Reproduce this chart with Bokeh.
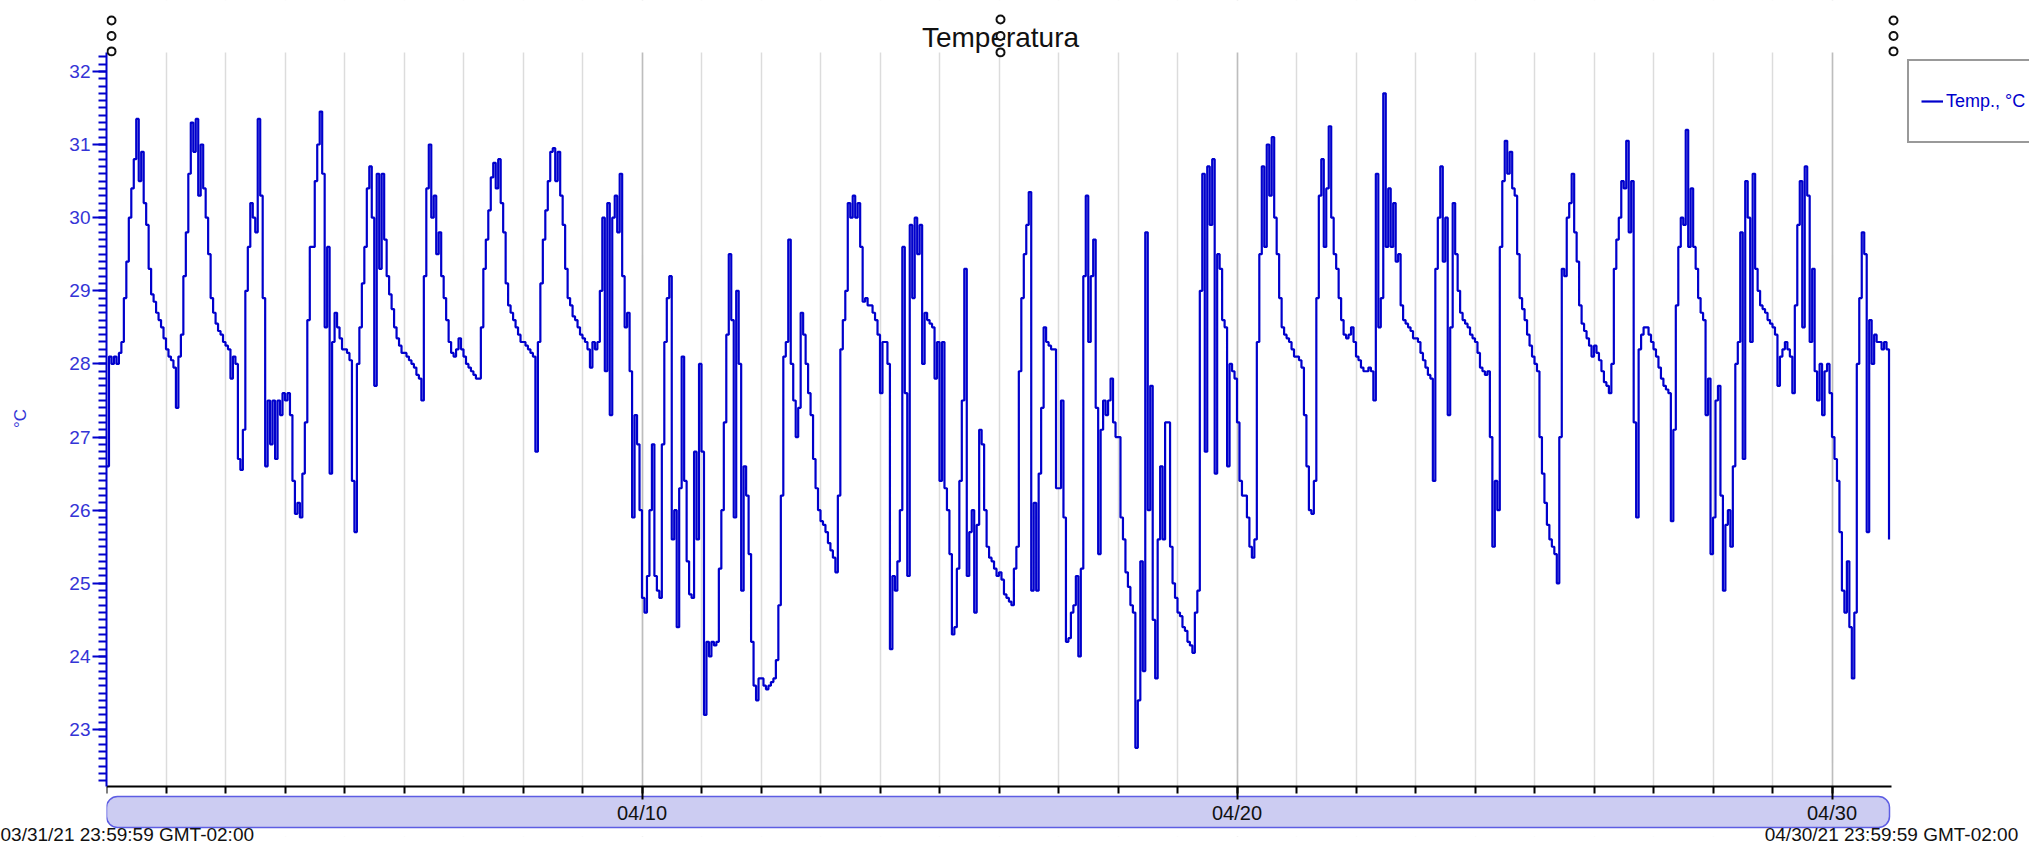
import pandas as pd
from bokeh.plotting import figure
from bokeh.core.properties import value
from bokeh.models import (Range1d, FixedTicker, SingleIntervalTicker, LinearAxis,
                          BoxAnnotation, Label, Legend, LegendItem, ColumnDataSource)
from bokeh.embed import file_html
from bokeh.resources import INLINE

# ---------------- data (hourly readings, °C) ----------------
start_time = "2021-04-01 00:00"
apr01 = [26.6, 28.1, 28.0, 28.1, 28.0, 28.15, 28.3, 28.9, 29.4, 30.0, 30.4, 30.8, 31.35, 30.5, 30.9, 30.2, 29.9, 29.3, 28.95, 28.85, 28.7, 28.6, 28.5, 28.35]
apr02 = [28.2, 28.1, 28.05, 27.95, 27.4, 28.1, 28.4, 29.2, 29.8, 30.6, 31.3, 30.9, 31.35, 30.3, 31.0, 30.4, 30.0, 29.5, 28.9, 28.7, 28.55, 28.45, 28.4, 28.3]
apr03 = [28.25, 28.2, 27.8, 28.1, 28.0, 26.7, 26.55, 27.1, 29.0, 29.6, 30.2, 30.0, 29.8, 31.35, 30.3, 28.9, 26.6, 27.5, 26.9, 27.5, 26.7, 27.5, 27.3, 27.6]
apr04 = [27.5, 27.6, 27.3, 26.4, 25.95, 26.1, 25.9, 26.5, 27.2, 28.6, 29.6, 29.6, 30.5, 31.0, 31.45, 30.6, 28.5, 29.6, 26.5, 28.3, 28.7, 28.5, 28.35, 28.2]
apr05 = [28.2, 28.15, 28.05, 26.4, 25.7, 28.0, 28.5, 29.1, 29.6, 30.4, 30.7, 30.0, 27.7, 30.6, 29.3, 30.6, 29.7, 29.2, 28.95, 28.75, 28.5, 28.35, 28.25, 28.15]
apr06 = [28.15, 28.1, 28.05, 28.0, 27.95, 27.85, 27.8, 27.5, 29.2, 30.4, 31.0, 30.0, 30.3, 29.5, 29.8, 29.2, 28.9, 28.6, 28.3, 28.15, 28.1, 28.2, 28.35, 28.2]
apr07 = [28.1, 28.0, 27.95, 27.9, 27.85, 27.8, 27.8, 28.5, 29.3, 29.7, 30.1, 30.55, 30.75, 30.4, 30.8, 30.2, 29.8, 29.1, 28.8, 28.7, 28.6, 28.5, 28.4, 28.3]
apr08 = [28.3, 28.25, 28.2, 28.15, 28.1, 26.8, 28.3, 29.1, 29.7, 30.1, 30.5, 30.9, 30.95, 30.5, 30.9, 30.3, 29.9, 29.3, 28.9, 28.8, 28.65, 28.6, 28.5, 28.4]
apr09 = [28.35, 28.3, 28.2, 27.95, 28.3, 28.2, 28.3, 29.0, 30.0, 27.9, 30.2, 27.3, 30.0, 30.3, 29.8, 30.6, 29.2, 28.5, 28.7, 27.9, 25.9, 27.3, 26.9, 26.0]
apr10 = [24.8, 24.6, 25.1, 26.0, 26.9, 25.1, 24.9, 24.8, 26.9, 28.3, 28.9, 29.2, 25.6, 26.0, 24.4, 26.3, 28.1, 26.4, 25.3, 24.85, 24.8, 26.8, 25.6, 28.0]
apr11 = [26.8, 23.2, 24.2, 24.0, 24.2, 24.15, 24.2, 25.2, 26.0, 27.2, 28.4, 29.5, 28.6, 25.9, 29.0, 28.0, 24.9, 26.6, 26.2, 25.4, 24.2, 23.6, 23.4, 23.7]
apr12 = [23.7, 23.6, 23.55, 23.6, 23.65, 23.7, 23.95, 24.7, 26.2, 28.1, 28.3, 29.7, 28.0, 27.5, 27.0, 27.4, 28.7, 28.4, 28.0, 27.6, 27.3, 26.7, 26.3, 26.0]
apr13 = [25.85, 25.8, 25.7, 25.55, 25.45, 25.35, 25.15, 26.2, 28.2, 28.6, 29.0, 30.2, 30.0, 30.3, 30.0, 30.2, 29.6, 28.85, 28.9, 28.8, 28.8, 28.7, 28.6, 28.4]
apr14 = [27.6, 28.3, 28.3, 28.0, 24.1, 25.1, 24.9, 25.3, 26.0, 29.6, 27.6, 25.1, 29.9, 28.9, 30.0, 29.5, 29.9, 28.0, 28.7, 28.6, 28.55, 28.5, 27.8, 28.3]
apr15 = [26.4, 28.3, 26.3, 26.0, 25.4, 24.3, 24.4, 25.2, 26.4, 27.5, 29.3, 25.1, 25.7, 26.0, 24.6, 25.8, 27.1, 26.9, 26.0, 25.5, 25.35, 25.3, 25.2, 25.1]
apr16 = [25.15, 25.05, 24.85, 24.8, 24.75, 24.7, 25.2, 25.5, 27.9, 28.9, 29.5, 29.9, 30.35, 24.9, 26.1, 24.9, 26.5, 27.4, 28.5, 28.3, 28.25, 28.2, 28.2, 26.3]
apr17 = [26.3, 27.5, 25.9, 24.2, 24.25, 24.6, 24.7, 25.1, 24.0, 25.2, 29.2, 30.3, 28.3, 29.2, 29.7, 27.4, 25.4, 27.1, 27.5, 27.3, 27.5, 27.8, 27.2, 27.0]
apr18 = [27.0, 25.9, 25.6, 25.15, 24.95, 24.7, 24.6, 22.75, 23.4, 25.3, 23.8, 29.8, 26.0, 27.7, 24.5, 23.7, 25.6, 26.6, 25.6, 27.2, 27.2, 25.5, 25.0, 24.8]
apr19 = [24.6, 24.55, 24.4, 24.35, 24.2, 24.15, 24.05, 24.6, 24.9, 29.0, 30.6, 26.8, 30.7, 29.9, 30.8, 26.5, 29.5, 29.3, 28.6, 28.5, 26.6, 28.0, 27.9, 27.8]
apr20 = [27.2, 26.4, 26.2, 26.2, 25.9, 25.5, 25.35, 25.6, 28.3, 29.5, 30.7, 29.6, 31.0, 30.3, 31.1, 30.0, 29.5, 28.9, 28.5, 28.4, 28.35, 28.3, 28.2, 28.1]
apr21 = [28.1, 28.05, 27.95, 27.3, 26.6, 26.0, 25.95, 26.4, 28.9, 30.3, 30.8, 29.6, 30.4, 31.25, 30.0, 29.5, 29.3, 28.9, 28.6, 28.4, 28.35, 28.4, 28.5, 28.3]
apr22 = [28.1, 28.05, 27.95, 27.9, 27.9, 27.95, 27.9, 27.5, 30.6, 28.5, 28.9, 31.7, 29.6, 30.4, 29.6, 30.2, 29.4, 29.5, 28.8, 28.6, 28.55, 28.5, 28.45, 28.35]
apr23 = [28.35, 28.3, 28.15, 28.05, 27.95, 27.85, 27.8, 26.4, 29.3, 30.0, 30.7, 29.4, 30.0, 27.3, 28.5, 30.2, 29.5, 29.0, 28.7, 28.6, 28.55, 28.5, 28.4, 28.35]
apr24 = [28.3, 28.15, 27.95, 27.9, 27.85, 27.9, 27.0, 25.5, 26.4, 26.0, 29.6, 30.5, 31.05, 30.6, 30.9, 30.4, 30.3, 29.5, 28.9, 28.75, 28.6, 28.4, 28.25, 28.1]
apr25 = [28.0, 27.9, 27.0, 26.5, 26.1, 25.8, 25.6, 25.5, 25.4, 25.0, 27.0, 29.3, 29.2, 30.0, 30.2, 30.6, 29.8, 29.4, 28.8, 28.55, 28.45, 28.35, 28.25, 28.1]
apr26 = [28.25, 28.15, 28.05, 27.9, 27.75, 27.7, 27.6, 28.0, 29.3, 29.7, 30.0, 30.5, 30.4, 31.05, 29.8, 30.5, 27.2, 25.9, 28.2, 28.4, 28.5, 28.5, 28.4, 28.3]
apr27 = [28.2, 28.1, 27.95, 27.8, 27.7, 27.65, 27.6, 25.85, 27.1, 28.8, 29.6, 30.0, 29.9, 31.2, 29.6, 30.4, 29.6, 29.3, 28.9, 28.7, 28.6, 27.3, 27.8, 25.4]
apr28 = [25.9, 27.5, 27.7, 26.2, 24.9, 25.8, 26.0, 25.5, 26.6, 28.0, 28.3, 29.8, 26.7, 30.5, 30.0, 28.3, 30.6, 29.3, 29.0, 28.8, 28.75, 28.7, 28.6, 28.55]
apr29 = [28.5, 28.4, 27.7, 28.1, 28.2, 28.3, 28.2, 28.1, 27.6, 28.8, 29.9, 30.5, 28.5, 30.7, 30.3, 28.3, 29.3, 27.9, 27.5, 28.0, 27.3, 27.9, 28.0, 27.6]
apr30 = [27.0, 26.7, 26.4, 25.7, 24.9, 24.6, 25.3, 24.4, 23.7, 24.6, 28.0, 28.9, 29.8, 29.5, 25.7, 28.6, 28.0, 28.4, 28.3, 28.3, 28.2, 28.3, 28.2, 25.6]

days = [apr01, apr02, apr03, apr04, apr05, apr06, apr07, apr08, apr09, apr10,
        apr11, apr12, apr13, apr14, apr15, apr16, apr17, apr18, apr19, apr20,
        apr21, apr22, apr23, apr24, apr25, apr26, apr27, apr28, apr29, apr30]
temps = [v for d in days for v in d]
times = pd.date_range(start_time, periods=len(temps), freq="h")

x_tick_dates = ["2021-04-10", "2021-04-20", "2021-04-30"]
x_minor_dates = pd.date_range("2021-04-01", "2021-04-30", freq="D")
title_text = "Temperatura"
series_label = "Temp., °C"
y_axis_label = "°C"
range_start_text = "03/31/21 23:59:59 GMT-02:00"
range_end_text = "04/30/21 23:59:59 GMT-02:00"

# ---------------- geometry (page pixels) ----------------
W, H = 2029, 847
FL, FR, FT, FB = 106, 1891, 52, 788      # chart plot area
BOTTOM = 9                                # reserved bottom border
FBF = H - BOTTOM                          # bottom of the drawing frame
X0 = pd.Timestamp("2021-04-01 00:00")
X1 = pd.Timestamp("2021-05-01 00:00")
Y0, Y1 = 22.22, 32.26
x0ms, x1ms = X0.value / 1e6, X1.value / 1e6
MPP = (x1ms - x0ms) / (FR - FL)           # ms per pixel
PPY = (FB - FT) / (Y1 - Y0)               # pixels per °C
TXT_SHIFT = 10                            # baseline correction for text

def xpx(px):   # page x -> time (ms)
    return x0ms + (px - FL) * MPP
def ypx(py):   # page y -> °C
    return Y0 + (FB - py) / PPY

p = figure(width=W, height=H, output_backend="svg", toolbar_location=None,
           x_axis_type="datetime",
           x_range=Range1d(xpx(FL), xpx(W)), y_range=Range1d(ypx(FBF), ypx(0)),
           min_border_left=FL, min_border_right=0, min_border_top=0,
           min_border_bottom=BOTTOM)
p.outline_line_color = None
p.background_fill_color = "white"
p.border_fill_color = "white"

# grid (vertical day lines)
p.ygrid.grid_line_color = None
p.xgrid.grid_line_color = "#bdbdbd"
p.xgrid.grid_line_width = 1.5
p.xgrid.minor_grid_line_color = "#dcdcdc"
p.xgrid.minor_grid_line_width = 1.5

# white covers so grid lines stay inside the plot area
p.add_layout(BoxAnnotation(left=xpx(FL - 5), right=xpx(W + 5), bottom=Y1, top=ypx(-5),
                           fill_color="white", fill_alpha=1.0, line_color=None, level="underlay"))
p.add_layout(BoxAnnotation(left=xpx(FL - 5), right=xpx(W + 5), top=ypx(FB + 1), bottom=ypx(H + 5),
                           fill_color="white", fill_alpha=1.0, line_color=None, level="underlay"))
# range bar under the time axis
p.add_layout(BoxAnnotation(left=xpx(FL), right=xpx(1889), top=ypx(798), bottom=ypx(829),
                           fill_color="#ccccf2", fill_alpha=1.0, line_color="#5d5de3",
                           line_alpha=1.0, line_width=1.5, border_radius=11, level="underlay"))

src = ColumnDataSource(dict(t=times, v=temps))
r = p.step(x="t", y="v", source=src, mode="after", line_color="#0000cc", line_width=2.2)

# time axis: ticks at the bottom of the plot area
major_ms = [pd.Timestamp(d).value / 1e6 for d in x_tick_dates]
minor_ms = [d.value / 1e6 for d in x_minor_dates]
xa = p.xaxis[0]
xa.fixed_location = Y0
xa.bounds = (x0ms, x1ms)
xa.ticker = FixedTicker(ticks=major_ms, minor_ticks=minor_ms)
xa.axis_line_color = "black"
xa.axis_line_width = 2
xa.major_tick_line_color = "black"
xa.major_tick_line_width = 2
xa.major_tick_out = 0
xa.major_tick_in = -13
xa.minor_tick_line_color = "black"
xa.minor_tick_line_width = 2
xa.minor_tick_out = 0
xa.minor_tick_in = -7
xa.major_label_text_color = None
xa.major_label_text_font_size = "1px"
xa.major_label_standoff = 0

# tick labels inside the range bar
tick_src = ColumnDataSource(dict(
    t=[pd.Timestamp(d) for d in x_tick_dates],
    y=[ypx(822 - 8)] * len(x_tick_dates),
    s=[pd.Timestamp(d).strftime("%m/%d") for d in x_tick_dates]))
p.text(x="t", y="y", text="s", source=tick_src, text_align="center",
       text_baseline="alphabetic", text_font_size="20px", text_color="#111111",
       text_font=value("Liberation Sans"))

# range start / end labels (an axis below the frame, labels pulled up into place)
ax2 = LinearAxis(ticker=FixedTicker(ticks=[x0ms, x1ms], minor_ticks=[]),
                 major_label_overrides={x0ms: range_start_text, x1ms: range_end_text},
                 axis_line_color=None,
                 major_tick_line_color=None, minor_tick_line_color=None,
                 major_tick_out=0, major_tick_in=0, minor_tick_out=0, minor_tick_in=0,
                 major_label_standoff=-13, major_label_text_font="Liberation Sans",
                 major_label_text_font_size="19px", major_label_text_color="#111111")
p.add_layout(ax2, "below")

# y axis
blue = "#0000cc"
ya = p.yaxis[0]
ya.bounds = (Y0, Y1)
ya.ticker = SingleIntervalTicker(interval=1, num_minor_ticks=10)
ya.axis_line_color = blue
ya.axis_line_width = 2
ya.major_tick_line_color = blue
ya.major_tick_line_width = 2
ya.major_tick_out = 14
ya.major_tick_in = 0
ya.minor_tick_line_color = blue
ya.minor_tick_line_width = 2
ya.minor_tick_out = 8
ya.minor_tick_in = 0
ya.major_label_text_font = "Liberation Sans"
ya.major_label_text_font_size = "19px"
ya.major_label_text_color = "#3434d6"
ya.major_label_standoff = 2
ya.axis_label = y_axis_label
ya.axis_label_text_font = "Liberation Sans"
ya.axis_label_text_font_style = "normal"
ya.axis_label_text_font_size = "17px"
ya.axis_label_text_color = "#3434d6"
ya.axis_label_standoff = 36

# title
p.add_layout(Label(x=xpx(1000), y=ypx(47 - TXT_SHIFT), text=title_text, text_align="center",
                   text_baseline="alphabetic", text_font="Liberation Sans",
                   text_font_size="28px", text_color="#111111"))

# small handle circles
for cx, cys in [(111, (20, 35.5, 51)), (1000, (19, 35.5, 52)), (1893, (20, 35.5, 51))]:
    for cy in cys:
        p.add_layout(BoxAnnotation(left=xpx(cx - 4), right=xpx(cx + 4),
                                   top=ypx(cy - 4), bottom=ypx(cy + 4),
                                   fill_color="white", fill_alpha=1.0, line_color="#111111",
                                   line_alpha=1.0, line_width=2, border_radius=4, level="overlay"))

# legend (runs off the right edge, as in the original)
legend = Legend(items=[LegendItem(label=series_label, renderers=[r])],
                location=(1907 - FL, FBF - 145), padding=12, glyph_width=22, glyph_height=56,
                label_height=56, label_standoff=3, spacing=0, margin=0,
                border_line_color="#333333", border_line_width=2,
                background_fill_color="white", background_fill_alpha=1.0,
                label_text_font="Liberation Sans", label_text_font_size="18px",
                label_text_color="#0000cc")
p.add_layout(legend, "center")

open("out.html", "w").write(file_html(p, INLINE))
